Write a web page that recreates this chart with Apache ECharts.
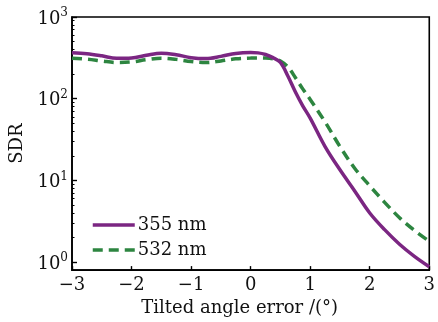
<!DOCTYPE html>
<html>
<head>
<meta charset="utf-8">
<script src="https://cdn.jsdelivr.net/npm/echarts@6/dist/echarts.min.js"></script>
<style>
  html, body { margin: 0; padding: 0; background: #fff; }
  #chart { width: 438px; height: 322px; }
</style>
</head>
<body>
<div id="chart"></div>
<script>
// Tilt angle (degrees) and the SDR values of each wavelength
const angles = [-3, -2.75, -2.5, -2.25, -2, -1.75, -1.5, -1.25, -1, -0.75, -0.5, -0.25,
  0, 0.125, 0.25, 0.375, 0.5, 0.625, 0.75, 0.875, 1, 1.25, 1.5, 1.75, 2, 2.25, 2.5, 2.75, 3];
const sdr355 = [364, 355, 335, 312, 315, 340, 360, 345, 318, 310, 330, 358,
  367, 364, 348, 318, 278, 190, 122, 82, 58, 26, 13.5, 7.4, 4.0, 2.5, 1.66, 1.18, 0.88];
const sdr532 = [313, 305, 290, 277, 282, 300, 313, 303, 285, 277, 290, 308,
  315, 316, 315, 308, 290, 245, 182, 132, 98, 52, 26, 14, 8.6, 5.4, 3.5, 2.45, 1.8];
const xTicks = [-3, -2, -1, 0, 1, 2, 3];
const seriesNames = ['355 nm', '532 nm'];

const FONT = 'DejaVu Serif';
const yMin = 0.8, yMax = 1000;

// minor ticks at 2..9 within every decade
const minorVals = [];
for (let d = 0; d < 3; d++) {
  for (let k = 2; k <= 9; k++) minorVals.push(Math.log10(k * Math.pow(10, d)));
}

const pairs = arr => angles.map((a, i) => [a, arr[i]]);
const fmtMinus = v => (v < 0 ? '\u2212' + Math.abs(v) : String(v));

const chart = echarts.init(document.getElementById('chart'), null, { renderer: 'canvas' });
chart.setOption({
  animation: false,
  backgroundColor: '#fff',
  grid: { left: 72, right: 7, top: 17, bottom: 51, show: true, borderColor: '#000', borderWidth: 1.6 },
  legend: {
    orient: 'vertical', left: 86, top: 211, itemWidth: 42, itemHeight: 14, itemGap: 7,
    data: seriesNames,
    itemStyle: { opacity: 0 },
    lineStyle: { width: 3.5 },
    textStyle: { fontFamily: FONT, fontSize: 18, color: '#111', padding: [0, 0, 0, -2] }
  },
  xAxis: {
    type: 'value', min: -3, max: 3, interval: 1,
    name: 'Tilted angle error /(\u00b0)', nameLocation: 'middle', nameGap: 22,
    nameTextStyle: { fontFamily: FONT, fontSize: 18, color: '#111', padding: [0, 22, 0, 0] },
    axisLine: { onZero: false, lineStyle: { color: '#000', width: 1.6 } },
    axisTick: { inside: true, length: 4, lineStyle: { color: '#000', width: 1.4 }, customValues: xTicks },
    axisLabel: { fontFamily: FONT, fontSize: 18, color: '#111', margin: 6, formatter: fmtMinus, customValues: xTicks },
    splitLine: { show: false }
  },
  yAxis: [{
    type: 'log', logBase: 10, min: yMin, max: yMax,
    name: 'SDR', nameLocation: 'middle', nameGap: 38,
    nameTextStyle: { fontFamily: FONT, fontSize: 18, color: '#111' },
    axisLine: { onZero: false, lineStyle: { color: '#000', width: 1.6 } },
    axisTick: { inside: true, length: 5, lineStyle: { color: '#000', width: 1.4 } },
    axisLabel: {
      showMinLabel: false, margin: 4,
      formatter: v => '{b|10}{s|' + Math.round(Math.log10(v)) + '}',
      rich: {
        b: { fontFamily: FONT, fontSize: 18, color: '#111', verticalAlign: 'bottom', lineHeight: 22 },
        s: { fontFamily: FONT, fontSize: 12, color: '#111', verticalAlign: 'bottom', lineHeight: 22, padding: [0, 0, 9, 0] }
      }
    },
    splitLine: { show: false }
  }, {
    // minor log ticks drawn on the same left edge
    type: 'value', position: 'left', min: Math.log10(yMin), max: Math.log10(yMax),
    axisLine: { show: false, onZero: false },
    axisTick: { show: true, inside: true, length: 2.5, lineStyle: { color: '#000', width: 1 }, customValues: minorVals },
    axisLabel: { show: false },
    splitLine: { show: false }
  }],
  series: [{
    name: seriesNames[0], type: 'line', data: pairs(sdr355), smooth: 0.35, symbol: 'none',
    lineStyle: { color: '#7b2682', width: 3.5 }, itemStyle: { color: '#7b2682' }, z: 3
  }, {
    name: seriesNames[1], type: 'line', data: pairs(sdr532), smooth: 0.35, symbol: 'none',
    lineStyle: { color: '#2d8540', width: 3.5, type: [10, 6] }, itemStyle: { color: '#2d8540' }, z: 2
  }]
});
</script>
</body>
</html>
